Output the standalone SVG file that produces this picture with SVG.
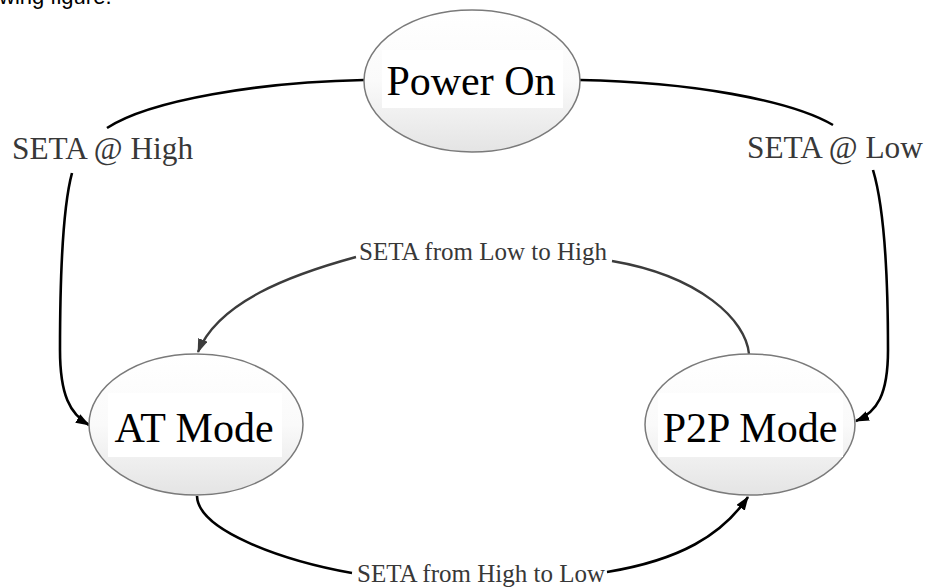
<svg xmlns="http://www.w3.org/2000/svg" width="926" height="588" viewBox="0 0 926 588">
  <style>
    .state { stroke: #7a7a7a; stroke-width: 1.5; fill: url(#stateFill); }
    .tbox { fill: #ffffff; }
    .name { font-family: "Liberation Serif", "Times New Roman", serif; font-size: 42px; fill: #000; text-anchor: middle; }
    .edge { fill: none; stroke: #000; stroke-width: 2.6; }
    .edge.soft { stroke: #3c3c3c; stroke-width: 2.4; }
    .lbl { font-family: "Liberation Serif", "Times New Roman", serif; fill: #383838; }
    .big { font-size: 31.3px; }
    .small { font-size: 25px; }
    .page { font-family: "Liberation Sans", Arial, sans-serif; font-size: 22px; fill: #000; }
  </style>
  <defs>
    <linearGradient id="stateFill" x1="0" y1="0" x2="0" y2="1">
      <stop offset="0" stop-color="#ffffff"/>
      <stop offset="0.5" stop-color="#fafafa"/>
      <stop offset="1" stop-color="#e4e4e4"/>
    </linearGradient>
    <marker id="arrow" viewBox="0 0 14 10" refX="13" refY="5" markerWidth="14" markerHeight="10" markerUnits="userSpaceOnUse" orient="auto">
      <path d="M0,0 L14,5 L0,10 Z" fill="#000"/>
    </marker>
    <marker id="arrowSoft" viewBox="0 0 14 10" refX="13" refY="5" markerWidth="14" markerHeight="10" markerUnits="userSpaceOnUse" orient="auto">
      <path d="M0,0 L14,5 L0,10 Z" fill="#3c3c3c"/>
    </marker>
  </defs>

  <rect width="926" height="588" fill="#ffffff"/>

  <!-- tail of the sentence above the figure, clipped by the top edge -->
  <text class="page" x="-1" y="4">wing figure.</text>

  <!-- transitions -->
  <g id="connectors">
    <!-- Power On -> AT Mode -->
    <path class="edge" d="M364,80 C260,82 150,100 107,128"/>
    <path class="edge" marker-end="url(#arrow)" d="M72,173 C62,210 60,280 60,350 C60,395 70,414 89,425"/>
    <!-- Power On -> P2P Mode -->
    <path class="edge" d="M580,80 C690,82 790,100 833,125"/>
    <path class="edge" marker-end="url(#arrow)" d="M873,170 C885,210 888,280 888,350 C888,395 877,412 856,421"/>
    <!-- P2P Mode -> AT Mode -->
    <path class="edge soft" d="M749,354 C746,320 700,276 612,261"/>
    <path class="edge soft" marker-end="url(#arrowSoft)" d="M356,257 C290,275 218,302 198,352"/>
    <!-- AT Mode -> P2P Mode -->
    <path class="edge" d="M197,496 C198,530 280,560 352,573"/>
    <path class="edge" marker-end="url(#arrow)" d="M607,572 C680,560 722,535 748,497"/>
  </g>

  <!-- transition labels -->
  <g id="labels">
    <text class="lbl big" x="12" y="159">SETA @ High</text>
    <text class="lbl big" x="747" y="158">SETA @ Low</text>
    <text class="lbl small" x="359" y="260">SETA from Low to High</text>
    <text class="lbl small" x="357" y="582">SETA from High to Low</text>
  </g>

  <!-- states -->
  <g id="power-on">
    <ellipse class="state" cx="472" cy="81" rx="108" ry="71"/>
    <rect class="tbox" x="382" y="50" width="181" height="58"/>
    <text class="name" x="471" y="95">Power On</text>
  </g>
  <g id="at-mode">
    <ellipse class="state" cx="196" cy="424.5" rx="107" ry="70.5"/>
    <rect class="tbox" x="108" y="393" width="174" height="64"/>
    <text class="name" x="194" y="442">AT Mode</text>
  </g>
  <g id="p2p-mode">
    <ellipse class="state" cx="750" cy="424.5" rx="105" ry="70.5"/>
    <rect class="tbox" x="658" y="393" width="185" height="64"/>
    <text class="name" x="750" y="442">P2P Mode</text>
  </g>
</svg>
